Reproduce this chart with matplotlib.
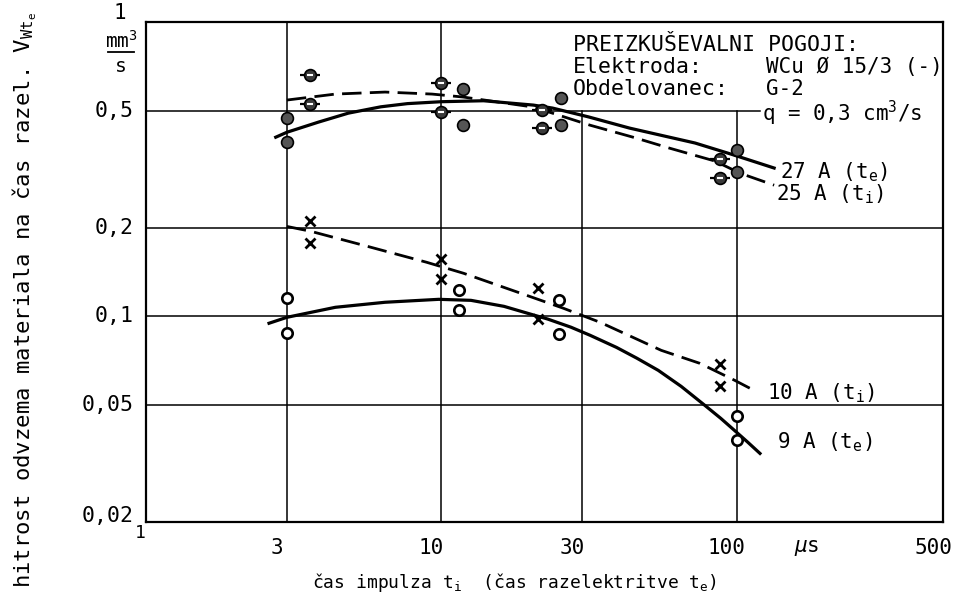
import matplotlib
matplotlib.use('Agg')
import matplotlib.pyplot as plt

plt.rcParams['font.family'] = ['DejaVu Sans Mono']
plt.rcParams['mathtext.fontset'] = 'custom'
plt.rcParams['mathtext.rm'] = 'DejaVu Sans Mono'
plt.rcParams['mathtext.it'] = 'DejaVu Sans Mono:italic'
plt.rcParams['mathtext.bf'] = 'DejaVu Sans Mono:bold'

# MEASURED POINTS
ti_25A_x = [3.6, 3.6, 10, 10, 22, 22, 88, 88]
ti_25A_y = [0.660, 0.526, 0.620, 0.494, 0.502, 0.436, 0.342, 0.295]
te_27A_x = [3.0, 3.0, 11.8, 11.8, 25.5, 25.5, 100, 100]
te_27A_y = [0.472, 0.391, 0.592, 0.446, 0.551, 0.446, 0.367, 0.309]
ti_10A_x = [3.6, 3.6, 10, 10, 21.2, 21.2, 88, 88]
ti_10A_y = [0.210, 0.178, 0.157, 0.134, 0.125, 0.098, 0.069, 0.058]
te_9A_x = [3.0, 3.0, 11.5, 11.5, 25, 25, 100, 100]
te_9A_y = [0.115, 0.088, 0.123, 0.105, 0.114, 0.087, 0.046, 0.038]

# HAND FITTED CURVES
curve_27A_x = [2.75, 3.0, 3.84, 4.84, 6.24, 7.68, 10, 13.9, 20.5, 23.8, 31.5, 43.4, 58, 72.3, 95.5, 134]
curve_27A_y = [0.406, 0.422, 0.457, 0.490, 0.515, 0.528, 0.536, 0.540, 0.522, 0.510, 0.476, 0.436, 0.408, 0.388, 0.356, 0.319]
curve_25A_x = [3.0, 4.38, 6.45, 9.3, 11.85, 20.5, 31.9, 45, 59.1, 84.4, 103, 134]
curve_25A_y = [0.543, 0.569, 0.578, 0.569, 0.556, 0.514, 0.446, 0.405, 0.373, 0.337, 0.306, 0.279]
curve_10A_x = [3.0, 3.61, 5.44, 8.9, 11.9, 18.6, 25.9, 34.5, 55.6, 75.1, 98.5, 113]
curve_10A_y = [0.202, 0.1945, 0.1744, 0.1527, 0.140, 0.1197, 0.1065, 0.0954, 0.0766, 0.0692, 0.0606, 0.0564]
curve_9A_x = [2.61, 3.0, 4.38, 6.45, 9.8, 12.6, 16.3, 19.6, 22.9, 27.5, 31.9, 39.2, 46, 54.3, 64.9, 78.1, 88.4, 98.5, 108.9, 120]
curve_9A_y = [0.0947, 0.0992, 0.1073, 0.1116, 0.1142, 0.1133, 0.1081, 0.1024, 0.0979, 0.0918, 0.0862, 0.0784, 0.0720, 0.0655, 0.0578, 0.0498, 0.0450, 0.0409, 0.0374, 0.0342]

xtick_vals = [3, 10, 30, 100, 500]
xtick_labels = ['3', '10', '30', '100', '500']
ytick_vals = [0.5, 0.2, 0.1, 0.05, 0.02]
ytick_labels = ['0,5', '0,2', '0,1', '0,05', '0,02']

W, H = 965, 603
FS = 15

fig = plt.figure(figsize=(W / 100, H / 100), dpi=100)
ax = fig.add_axes([146 / W, 1 - 522 / H, (943 - 146) / W, (522 - 22) / H])
ax.set_xscale('log')
ax.set_yscale('log')
ax.set_xlim(1, 500)
ax.set_ylim(0.02, 1)
ax.tick_params(which='both', length=0, labelbottom=False, labelleft=False)
for s in ax.spines.values():
    s.set_linewidth(1.6)

# GRID (upper right part is left open for the test conditions)
top_open = (522 - 110.5) / 500
for v in [3, 10]:
    ax.axvline(v, color='black', lw=1.1, zorder=1)
for v in [30, 100]:
    ax.axvline(v, ymax=top_open, color='black', lw=1.1, zorder=1)
for v in [0.2, 0.1, 0.05]:
    ax.axhline(v, color='black', lw=1.1, zorder=1)
ax.axhline(0.5, xmax=(760 - 146) / (943 - 146), color='black', lw=1.1, zorder=1)

# CURVES
ax.plot(curve_27A_x, curve_27A_y, color='black', lw=2.3, zorder=3)
ax.plot(curve_25A_x, curve_25A_y, color='black', lw=2.0, dashes=(7, 3), zorder=3)
ax.plot(curve_10A_x, curve_10A_y, color='black', lw=2.0, dashes=(7, 3), zorder=3)
ax.plot(curve_9A_x, curve_9A_y, color='black', lw=2.3, zorder=3)

# POINTS
ax.plot(ti_25A_x, ti_25A_y, ls='none', marker='_', ms=15, mew=1.6, color='black', zorder=4)
ax.plot(ti_25A_x, ti_25A_y, ls='none', marker='o', ms=8.5, mfc='#3a3a3a', mec='black', mew=1.2, zorder=5)
ax.plot(ti_25A_x, ti_25A_y, ls='none', marker='_', ms=4.5, mew=1.5, color='white', zorder=6)
ax.plot(te_27A_x, te_27A_y, ls='none', marker='o', ms=8.5, mfc='#555555', mec='black', mew=1.2, zorder=5)
ax.plot(ti_10A_x, ti_10A_y, ls='none', marker='x', ms=7.5, mew=2.0, color='black', zorder=5)
ax.plot(te_9A_x, te_9A_y, ls='none', marker='o', ms=7.5, mfc='white', mec='black', mew=1.9, zorder=5)

# TICK LABELS
for v, s in zip(xtick_vals, xtick_labels):
    ax.annotate(s, (v, 0), xycoords=('data', 'axes fraction'), xytext=(-7, -19),
                textcoords='offset points', ha='center', va='center', fontsize=FS)
ax.annotate('$\\mu$s', (173, 0), xycoords=('data', 'axes fraction'), xytext=(0, -19),
            textcoords='offset points', ha='center', va='center', fontsize=FS)
ax.annotate('1', (1, 0), xycoords=('data', 'axes fraction'), xytext=(-4, -8),
            textcoords='offset points', ha='center', va='center', fontsize=FS - 2)
for v, s in zip(ytick_vals, ytick_labels):
    dy = 4 if v == 0.02 else 0
    ax.annotate(s, (0, v), xycoords=('axes fraction', 'data'), xytext=(-9, dy),
                textcoords='offset points', ha='right', va='center', fontsize=FS + 0.5)


def px(x, y):
    return x / W, 1 - y / H


# UNIT ON THE Y AXIS
fig.text(*px(120, 13), '1', ha='center', va='center', fontsize=FS)
fig.text(*px(121, 41), 'mm$^3$', ha='center', va='center', fontsize=FS - 1)
fig.add_artist(plt.Line2D([108 / W, 134 / W], [1 - 52 / H, 1 - 52 / H], color='black', lw=1.3))
fig.text(*px(121, 66), 's', ha='center', va='center', fontsize=FS - 1)

# AXIS TITLES
fig.text(*px(25, 300), 'hitrost odvzema materiala na čas razel. V$_{\\mathrm{Wt}_\\mathrm{e}}$',
         rotation=90, ha='center', va='center', fontsize=16)
fig.text(*px(514, 582), 'čas impulza t$_\\mathrm{i}$  (čas razelektritve t$_\\mathrm{e}$)',
         ha='center', va='center', fontsize=13)

# TEST CONDITIONS
fig.text(*px(573, 45), 'PREIZKUŠEVALNI POGOJI:', ha='left', va='center', fontsize=15.5)
fig.text(*px(573, 67), 'Elektroda:', ha='left', va='center', fontsize=15.5)
fig.text(*px(573, 89), 'Obdelovanec:', ha='left', va='center', fontsize=15.5)
fig.text(*px(766, 67), 'WCu Ø 15/3 (-)', ha='left', va='center', fontsize=15)
fig.text(*px(766, 89), 'G-2', ha='left', va='center', fontsize=15)
fig.text(*px(762, 113), 'q = 0,3 cm$^3$/s', ha='left', va='center', fontsize=15)

# CURVE LABELS
fig.text(*px(780, 172), '27 A (t$_\\mathrm{e}$)', ha='left', va='center', fontsize=FS)
fig.text(*px(776, 194), '25 A (t$_\\mathrm{i}$)', ha='left', va='center', fontsize=FS)
fig.text(*px(767, 393), '10 A (t$_\\mathrm{i}$)', ha='left', va='center', fontsize=FS)
fig.text(*px(777, 442), '9 A (t$_\\mathrm{e}$)', ha='left', va='center', fontsize=FS)

fig.savefig('out.png', dpi=100)
